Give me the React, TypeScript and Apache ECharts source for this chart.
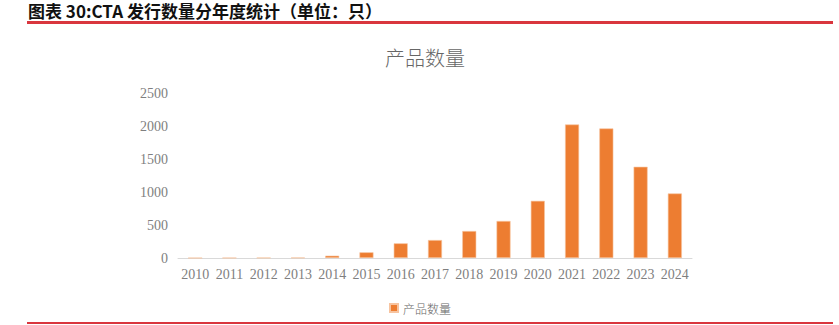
import React, { useEffect, useRef } from "react";
import * as echarts from "echarts";

const categories = ["2010","2011","2012","2013","2014","2015","2016","2017","2018","2019","2020","2021","2022","2023","2024"];
const productCounts = [0, 1, 3, 5, 35, 86, 222, 272, 409, 561, 866, 2023, 1963, 1382, 978];
const yTicks = [0, 500, 1000, 1500, 2000, 2500];
const headerTitle = "图表 30:CTA 发行数量分年度统计（单位：只）";
const chartTitle = "产品数量";
const seriesName = "产品数量";

export default function App() {
  const ref = useRef<HTMLDivElement>(null);
  useEffect(() => {
    document.body.style.margin = "0";
    const chart = echarts.init(ref.current!, null, { renderer: "svg" });
    chart.setOption({
      animation: false,
      backgroundColor: "#ffffff",
      title: {
        text: chartTitle,
        left: 420,
        textAlign: "center",
        top: 42,
        textStyle: { fontSize: 20, fontWeight: 300, color: "#666666", fontFamily: "Noto Sans CJK SC" },
      },
      graphic: [
        {
          type: "text",
          x: 28,
          y: 2,
          style: {
            text: headerTitle,
            fontSize: 17,
            fontWeight: "bold",
            fill: "#111",
            fontFamily: "Noto Sans CJK SC",
            verticalAlign: "top",
            align: "left",
          },
        },
        { type: "rect", shape: { x: 27, y: 21, width: 806, height: 3 }, style: { fill: "#D9363E" } },
        { type: "rect", shape: { x: 27, y: 322, width: 806, height: 2 }, style: { fill: "#D9363E" } },
      ],
      legend: {
        data: [seriesName],
        left: 384,
        top: 297,
        itemWidth: 8,
        itemHeight: 8,
        itemGap: 4,
        icon: "rect",
        textStyle: { fontSize: 12, color: "#666666", fontWeight: 300, fontFamily: "Noto Sans CJK SC" },
      },
      grid: { left: 178, right: 147, top: 93, bottom: 67, containLabel: false },
      xAxis: {
        type: "category",
        data: categories,
        axisLine: { lineStyle: { color: "#D9D9D9", width: 1 } },
        axisTick: { show: false },
        axisLabel: { interval: 0, color: "#7F7F7F", fontSize: 14, fontFamily: "Liberation Serif", margin: 9 },
      },
      yAxis: {
        type: "value",
        min: yTicks[0],
        max: yTicks[yTicks.length - 1],
        interval: 500,
        axisLine: { show: false },
        axisTick: { show: false },
        splitLine: { show: false },
        axisLabel: {
          color: "#7F7F7F",
          fontSize: 14,
          fontFamily: "Liberation Serif",
          margin: 10,
          formatter: (v: number) => String(v),
        },
      },
      series: [
        {
          name: seriesName,
          type: "bar",
          data: productCounts,
          barWidth: 14,
          itemStyle: { color: "#ED7D31", borderColor: "#F7C4A0", borderWidth: 0.6 },
        },
      ],
    });
    return () => chart.dispose();
  }, []);
  return <div ref={ref} style={{ width: 839, height: 325 }} />;
}
